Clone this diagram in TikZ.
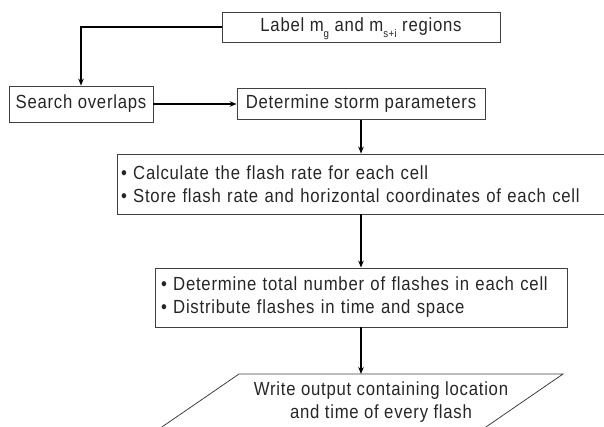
\documentclass[tikz,border=0pt]{standalone}
\usepackage{fontspec}
\setmainfont{Liberation Sans}[FakeStretch=0.88, LetterSpace=4]
\usepackage{tikz}
\usetikzlibrary{positioning}
\usetikzlibrary{arrows.meta}

\newcommand{\lowsub}[1]{\raisebox{-0.55ex}{\fontsize{11}{11}\selectfont #1}}

\tikzset{
  stepbox/.style={draw=black!75, line width=0.8pt, rectangle, inner sep=0pt,
    font=\fontsize{19}{23}\selectfont, text=black!85},
  flow/.style={-{Stealth[length=7pt,width=5.5pt]}, line width=1.4pt}
}

\begin{document}
\begin{tikzpicture}[x=1pt,y=-1pt]
\useasboundingbox (0,0) rectangle (604,427);
\clip (0,0) rectangle (604,427);
  \node[stepbox, minimum width=278pt, minimum height=30pt, text height=13.6pt, text depth=4pt] (label) at (361,27)
    {Label m\lowsub{g} and m\lowsub{s+i} regions};
  \node[stepbox, minimum width=144pt, minimum height=36pt] (search) at (81,104) {Search overlaps};
  \node[stepbox, minimum width=248pt, minimum height=31pt] (storm) at (361,104) {Determine storm parameters};
  \node[stepbox, minimum height=60pt, inner xsep=4pt, text width=480pt, align=left] (calc) at (361,184)
    {\textbullet\ Calculate the flash rate for each cell\\
     \textbullet\ Store flash rate and horizontal coordinates of each cell};
  \node[stepbox, minimum height=59pt, inner xsep=6pt, text width=400pt, align=left] (total) at (361,297.5)
    {\textbullet\ Determine total number of flashes in each cell\\
     \textbullet\ Distribute flashes in time and space};
  % output parallelogram
  \coordinate (outTL) at (239,374);
  \coordinate (outTR) at (563,374);
  \coordinate (outBR) at (483,429);
  \coordinate (outBL) at (159,429);
  \draw[draw=black!75, line width=0.8pt] (outTL) -- (outTR) -- (outBR) -- (outBL) -- cycle;
  \node[font=\fontsize{19}{23}\selectfont, text=black!85, align=center] (out) at (381,402)
    {Write output containing location\\ and time of every flash};

  \draw[flow] (label.west) -| (search.north);
  \draw[flow] (search.east) -- (storm.west);
  \draw[flow] (storm.south) -- (calc.north);
  \draw[flow] (calc.south) -- (total.north);
  \draw[flow] (total.south) -- (total.south |- outTL);
\end{tikzpicture}
\end{document}
